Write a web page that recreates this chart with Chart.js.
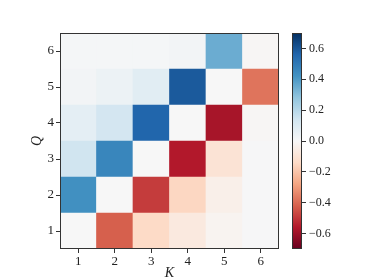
<!DOCTYPE html>
<html><head><meta charset="utf-8">
<script src="https://cdn.jsdelivr.net/npm/chart.js@4/dist/chart.umd.min.js"></script>
<style>
html,body{margin:0;padding:0;background:#fff;}
#wrap{position:relative;width:374px;height:280px;}
canvas{position:absolute;left:0;top:0;}
</style></head>
<body><div id="wrap"><canvas id="hm" width="374" height="280"></canvas><canvas id="cb" width="374" height="280"></canvas></div>
<script>
// Data
const kLabels = ['1','2','3','4','5','6'];
const qRows = [1,2,3,4,5,6];
// values[q-1][k-1]
const rowQ1 = [0.00, -0.42, -0.14, -0.07, -0.02, 0.005];
const rowQ2 = [0.43, 0.00, -0.49, -0.15, -0.04, 0.005];
const rowQ3 = [0.14, 0.46, 0.00, -0.56, -0.10, 0.005];
const rowQ4 = [0.07, 0.13, 0.56, 0.00, -0.58, -0.01];
const rowQ5 = [0.02, 0.04, 0.08, 0.59, 0.00, -0.38];
const rowQ6 = [0.01, 0.01, 0.01, 0.02, 0.35, -0.01];
const rows = [rowQ1,rowQ2,rowQ3,rowQ4,rowQ5,rowQ6];
const vmin = -0.7, vmax = 0.7;
const cbTicks = [-0.6,-0.4,-0.2,0.0,0.2,0.4,0.6];

const RdBu = ['#67001f','#b2182b','#d6604d','#f4a582','#fddbc7','#f7f7f7','#d1e5f0','#92c5de','#4393c3','#2166ac','#053061'];
function hex(c){return [parseInt(c.slice(1,3),16),parseInt(c.slice(3,5),16),parseInt(c.slice(5,7),16)];}
function cmap(v){
  let t=(v-vmin)/(vmax-vmin); t=Math.max(0,Math.min(1,t));
  const p=t*(RdBu.length-1); const i=Math.min(Math.floor(p),RdBu.length-2); const f=p-i;
  const a=hex(RdBu[i]), b=hex(RdBu[i+1]);
  return 'rgb('+a.map((x,j)=>Math.round(x+(b[j]-x)*f)).join(',')+')';
}
const FONT = "'Liberation Serif', 'DejaVu Serif', serif";
const frame = {id:'frame', afterDraw(c){const a=c.chartArea,ctx=c.ctx;ctx.save();ctx.strokeStyle='#333';ctx.lineWidth=1;ctx.strokeRect(Math.round(a.left)+0.5,Math.round(a.top)+0.5,Math.round(a.right-a.left)-1,Math.round(a.bottom-a.top)-1);ctx.restore();}};

const datasets = qRows.map((q,qi)=>({
  data: rows[qi].map(()=>[q-0.5,q+0.5]),
  backgroundColor: rows[qi].map(cmap),
  borderWidth:0, barPercentage:1, categoryPercentage:1, grouped:false
}));

new Chart(document.getElementById('hm'), {
  type:'bar',
  data:{labels:kLabels, datasets},
  options:{
    responsive:false, animation:false, events:[],
    layout:{padding:{left:30,top:33,right:95,bottom:0}},
    plugins:{legend:{display:false},tooltip:{enabled:false}},
    scales:{
      x:{type:'category', offset:true,
        grid:{offset:false, drawOnChartArea:false, drawTicks:true, tickLength:4, color:'#333'},
        border:{display:false},
        ticks:{color:'#222', padding:1, font:{family:FONT,size:13}},
        title:{display:true,text:'K',color:'#222',padding:{top:0,bottom:0},font:{family:FONT,size:14,style:'italic',lineHeight:1}},
        afterFit(s){s.height=31;}
      },
      y:{type:'linear', min:0.5, max:6.5,
        afterBuildTicks(s){s.ticks=qRows.map(v=>({value:v}));},
        grid:{drawOnChartArea:false, drawTicks:true, tickLength:4, color:'#333'},
        border:{display:false},
        ticks:{color:'#222', padding:2, font:{family:FONT,size:13}},
        title:{display:true,text:'Q',color:'#222',padding:{top:0,bottom:0},font:{family:FONT,size:14,style:'italic',lineHeight:1}},
        afterFit(s){s.width=30;}
      }
    }
  },
  plugins:[frame]
});

new Chart(document.getElementById('cb'), {
  type:'bar',
  data:{labels:[''], datasets:[{data:[[vmin,vmax]], borderWidth:0, barPercentage:1, categoryPercentage:1,
    backgroundColor(ctx){const a=ctx.chart.chartArea; if(!a) return '#fff';
      const g=ctx.chart.ctx.createLinearGradient(0,a.bottom,0,a.top);
      RdBu.forEach((c,i)=>g.addColorStop(i/(RdBu.length-1),c)); return g;}}]},
  options:{
    responsive:false, animation:false, events:[],
    layout:{padding:{left:292,top:33,right:0,bottom:31}},
    plugins:{legend:{display:false},tooltip:{enabled:false}},
    scales:{
      x:{display:false},
      y:{type:'linear', position:'right', min:vmin, max:vmax,
        afterBuildTicks(s){s.ticks=cbTicks.map(v=>({value:v}));},
        grid:{drawOnChartArea:false, drawTicks:true, tickLength:4, color:'#333'},
        border:{display:false},
        ticks:{color:'#222', padding:3, font:{family:FONT,size:12},
          callback(v){return (v<0?'\u2212':'')+Math.abs(v).toFixed(1);}},
        afterFit(s){s.width=72;}
      }
    }
  },
  plugins:[frame]
});
</script></body></html>
